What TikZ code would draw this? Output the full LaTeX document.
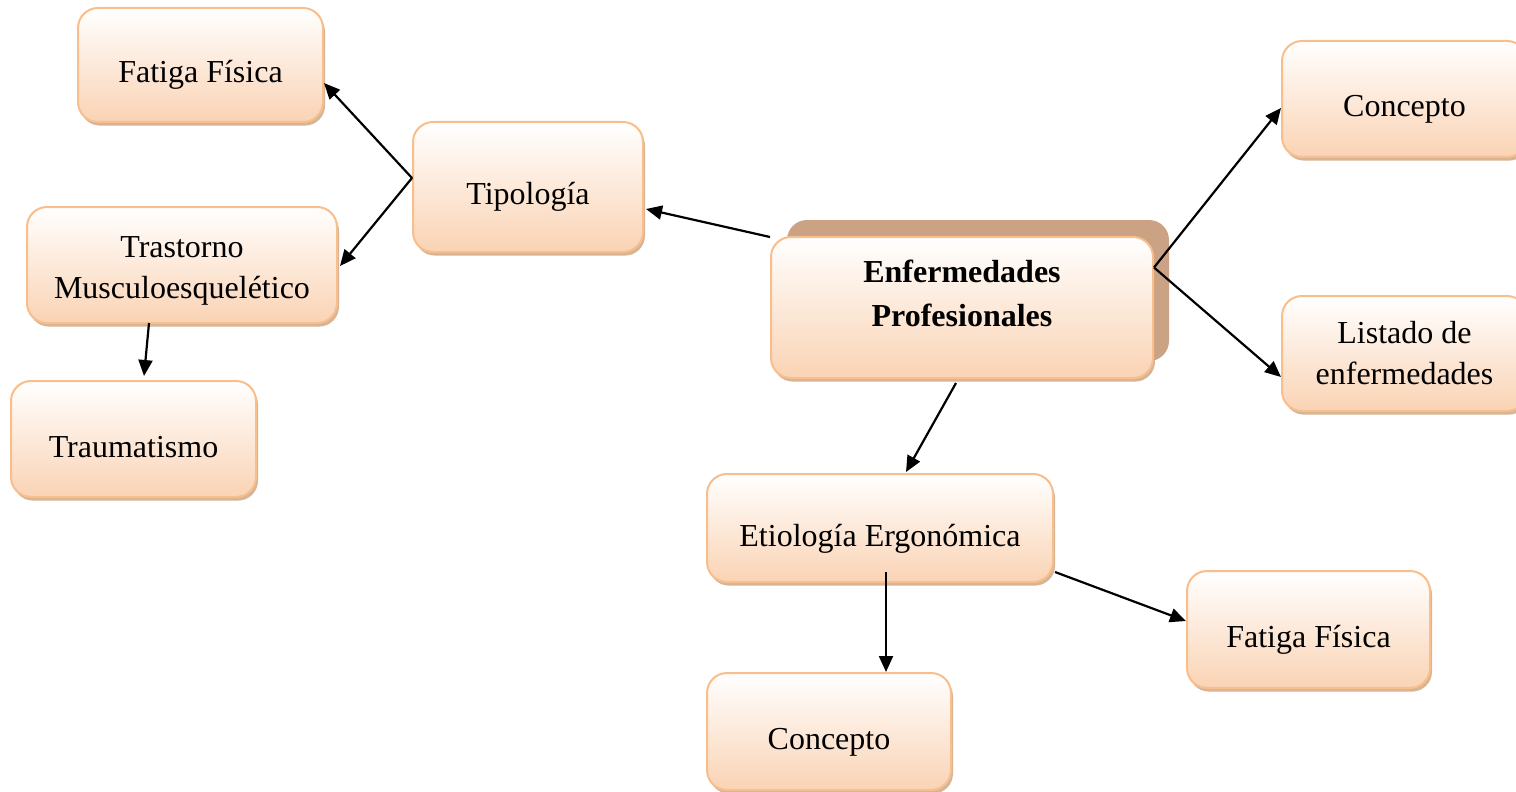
\documentclass[tikz,border=0pt]{standalone}
\usepackage{fontspec}
\setmainfont{Liberation Serif}
\usetikzlibrary{arrows.meta,shadows,calc}
\definecolor{peachline}{RGB}{248,190,140}
\definecolor{peachbot}{RGB}{250,211,180}
\definecolor{tanshadow}{RGB}{214,180,150}
\definecolor{bigshadow}{RGB}{203,163,132}
\tikzset{
  box/.style={draw=peachline, line width=1pt, rounded corners=10pt,
    top color=white, bottom color=peachbot, align=center,
    font=\fontsize{16}{20.5}\selectfont,
    drop shadow={shadow xshift=1pt, shadow yshift=-1.8pt, fill=tanshadow, opacity=1},
    inner sep=0pt},
  one/.style={text height=18pt, text depth=0pt},
  conn/.style={line width=1.1pt, -{Triangle[length=8pt,width=7pt]}},
}
\begin{document}
\begin{tikzpicture}[x=0.5pt,y=-0.5pt]
\useasboundingbox (0,0) rectangle (1516,792);
\fill[white] (0,0) rectangle (1516,792);
% boxes
\node[box,one,minimum width=122.5pt,minimum height=57pt] (fat1) at (200.5,65) {Fatiga Física};
\node[box,one,minimum width=115pt,minimum height=65pt] (tipo) at (528,187) {Tipología};
\node[box,minimum width=155pt,minimum height=58pt] (tras) at (182,265) {\rule{0pt}{16pt}Trastorno\\Musculoesquelético};
\node[box,one,minimum width=122.5pt,minimum height=58pt] (trau) at (133.5,439) {Traumatismo};
\node[box,minimum width=191pt,minimum height=70.5pt,
  drop shadow={shadow xshift=8pt, shadow yshift=8.5pt, fill=bigshadow, opacity=1},
  font=\fontsize{16}{22}\selectfont\bfseries] (enf) at (962,307.5) {Enfermedades\\Profesionales\\[-8pt]\mbox{}};
\node[box,one,minimum width=122.5pt,minimum height=58pt] (con1) at (1404.5,99) {Concepto};
\node[box,minimum width=122.5pt,minimum height=57.5pt] (list) at (1404.5,353.5) {Listado de\\enfermedades};
\node[box,one,minimum width=173pt,minimum height=54pt] (etio) at (880,528) {Etiología Ergonómica};
\node[box,one,minimum width=121.5pt,minimum height=58.5pt] (fat2) at (1308.5,629.5) {Fatiga Física};
\node[box,one,minimum width=122pt,minimum height=58.5pt] (con2) at (829,731.5) {Concepto};
% connectors
\coordinate (tipoL) at ($(tipo.west)+(0,-9)$);
\coordinate (enfR) at ($(enf.east)+(0,-40)$);
\draw[conn] ($(enf.north west)+(0,1)$) -- ($(tipo.east)+(2,22)$);
\draw[conn] (tipoL) -- ($(fat1.east)+(0,18)$);
\draw[conn] (tipoL) -- ($(tras.east)+(2,1)$);
\draw[conn] ($(tras.south)+(-33,-1)$) -- ($(trau.north)+(10.5,-4)$);
\draw[conn] (enfR) -- ($(con1.west)+(0,9)$);
\draw[conn] (enfR) -- ($(list.west)+(0,23.5)$);
\draw[conn] ($(enf.south)+(-6,4)$) -- ($(etio.north)+(26,-1)$);
\draw[conn] ($(etio.south)+(6,-11)$) -- ($(con2.north)+(57,0)$);
\draw[conn] ($(etio.east)+(1,44)$) -- ($(fat2.west)+(0,-8.5)$);
\end{tikzpicture}
\end{document}
